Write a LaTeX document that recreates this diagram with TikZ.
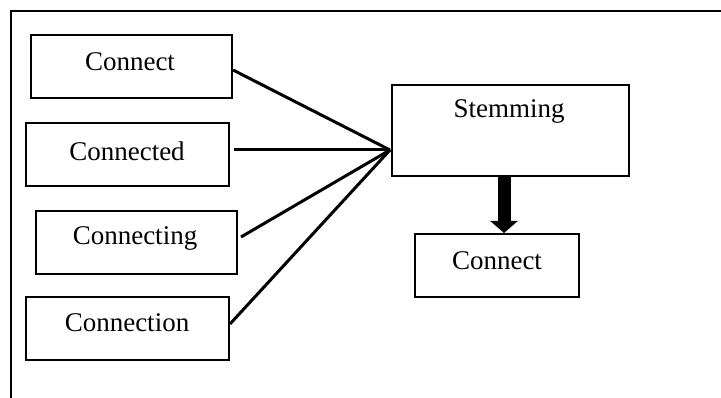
\documentclass[tikz,border=0pt]{standalone}
\usepackage{fontspec}
\setmainfont{Liberation Serif}
\usetikzlibrary{arrows.meta}
\begin{document}
\begin{tikzpicture}[x=1pt,y=-1pt,
  wordbox/.style={draw,line width=2pt,inner sep=0pt,anchor=north west},
  wordtext/.style={font=\fontsize{27}{30}\selectfont,inner sep=0pt},
  conn/.style={line width=3pt},
  bigarrow/.style={line width=13pt,-{Triangle[width=27pt,length=12pt]}}]
\useasboundingbox (0,0) rectangle (721,398);
% partial outer frame
\draw[line width=2pt] (11,398) -- (11,11) -- (721,11);
% left boxes
\node[wordbox,minimum width=201pt,minimum height=63pt] (b1) at (30,34) {};
\node[wordtext] (t1) at (130,62) {Connect};
\node[wordbox,minimum width=203pt,minimum height=63pt] (b2) at (25,122) {};
\node[wordtext] (t2) at (127,151) {Connected};
\node[wordbox,minimum width=201pt,minimum height=63pt] (b3) at (35,210) {};
\node[wordtext] (t3) at (135,238) {Connecting};
\node[wordbox,minimum width=203pt,minimum height=63pt] (b4) at (25,296) {};
\node[wordtext] (t4) at (127,323) {Connection};
% right boxes
\node[wordbox,minimum width=237pt,minimum height=91pt] (st) at (391,84) {};
\node[wordtext] (tst) at (509,111) {Stemming};
\node[wordbox,minimum width=164pt,minimum height=63pt] (c2) at (414,233) {};
\node[wordtext] (tc2) at (497,261) {Connect};
% connectors
\coordinate (hub) at (390,150);
\draw[conn] ([yshift=-3.5pt]b1.east) -- (hub);
\draw[conn] ([xshift=4pt,yshift=4.5pt]b2.east) -- (hub);
\draw[conn] ([xshift=3pt,yshift=5.5pt]b3.east) -- (hub);
\draw[conn] ([yshift=4.5pt]b4.east) -- (hub);
\coordinate (ax) at (504,0);
\draw[bigarrow] (ax |- st.south) -- (ax |- c2.north);
\end{tikzpicture}
\end{document}
